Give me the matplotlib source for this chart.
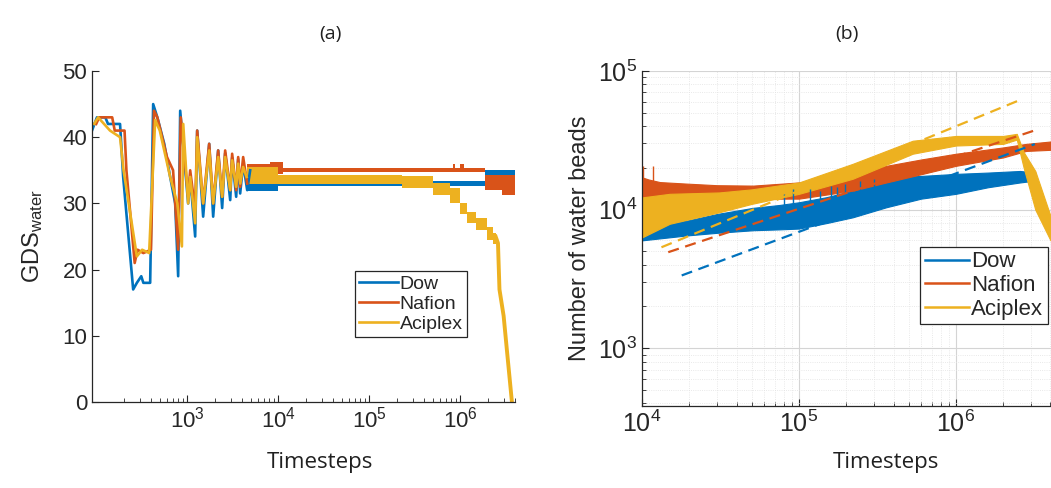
import numpy as np
import matplotlib
matplotlib.use("Agg")
import matplotlib.pyplot as plt
from matplotlib.ticker import LogLocator, NullFormatter, FixedLocator

plt.rcParams['font.family'] = ['Liberation Sans', 'DejaVu Sans']
plt.rcParams['mathtext.fontset'] = 'custom'
plt.rcParams['mathtext.rm'] = 'Liberation Sans'
plt.rcParams['mathtext.it'] = 'Liberation Sans:italic'

# MATLAB default line colours
c_dow = '#0072BD'
c_naf = '#D95319'
c_aci = '#EDB120'
dark = '#262626'

labels = ['Dow', 'Nafion', 'Aciplex']

# ---- (a) GDS of water vs timesteps ----
dow_t = [90, 102, 126, 135, 183, 198, 255, 280, 313, 330, 392, 423, 470, 560, 650, 738, 796, 838,
         1025, 1079, 1224, 1288, 1498, 1745, 1930, 2190, 2423, 2615, 2970, 3119, 3455, 3634, 3822,
         4122, 4565, 4922]
dow_v = [41, 43, 43, 42, 42, 34, 17, 18, 19, 18, 18, 45, 43, 39, 34, 30, 19, 44,
         30, 34, 25, 41, 28, 39, 28, 38, 29.3, 37.6, 30.5, 36.9, 31, 36.7, 31.5,
         36, 32, 35]

naf_t = [100, 108, 150, 160, 205, 215, 265, 285, 330, 400, 432, 470, 600, 700, 796, 850,
         1025, 1079, 1224, 1288, 1498, 1745, 1930, 2190, 2423, 2615, 2970, 3119, 3455, 3634,
         3822, 4122, 4565]
naf_v = [42, 43, 43, 41, 41, 35, 21, 23, 22.5, 23, 44, 43, 37, 35, 23, 43,
         31, 35, 29, 41, 30, 39, 30, 38, 31, 38, 32, 37.5, 32, 37,
         32.5, 37, 33]

aci_t = [95, 105, 142, 183, 200, 280, 320, 382, 445, 500, 650, 780, 875, 905,
         1025, 1079, 1224, 1288, 1498, 1745, 1930, 2190, 2423, 2615, 2970, 3119, 3455, 3634,
         3822, 4122, 4500]
aci_v = [42, 43, 41, 40, 35, 22, 23, 22.5, 42.6, 41, 34, 30, 23.5, 42,
         30, 34, 27, 40, 30, 38, 30, 37, 31, 37, 32, 36.5, 32.5, 36,
         33, 35.5, 34]

# fluctuating plateaus (min / max envelope)
dow_band_t = [4565, 1.0e4, 1.85e6, 2.8e6, 4.0e6]
dow_band_lo = [31.8, 32.7, 33.0, 32.2, 32.2]
dow_band_hi = [33.5, 33.4, 35.0, 35.0, 35.0]

naf_band_t = [4565, 8.2e3, 1.13e4, 8.3e5, 8.8e5, 1.0e6, 1.1e6, 1.85e6, 2.9e6, 4.0e6]
naf_band_lo = [34.5, 34.5, 34.7, 34.7, 34.7, 34.7, 34.7, 32.0, 31.2, 31.2]
naf_band_hi = [36.0, 36.3, 35.3, 36.0, 35.3, 36.0, 35.3, 34.3, 34.3, 34.3]

aci_band_t = [4500, 1.0e4, 2.3e5, 5.0e5, 7.8e5, 1.0e6, 1.2e6, 1.5e6, 1.95e6, 2.3e6, 2.45e6]
aci_band_lo = [33.0, 33.0, 32.3, 31.3, 30.0, 28.4, 27.0, 26.0, 24.5, 23.8, 23.8]
aci_band_hi = [35.5, 34.3, 34.2, 33.1, 32.3, 30.0, 28.7, 27.8, 26.5, 25.6, 25.6]

aci_tail_t = [2.45e6, 2.6e6, 2.7e6, 3.0e6, 3.25e6, 3.7e6]
aci_tail_v = [25, 24, 17, 13, 8, 0]

# ---- (b) number of water beads vs timesteps ----
dow_b_t = [1.0e4, 1.3e4, 1.9e4, 3.0e4, 5.1e4, 7.5e4, 1.0e5, 1.5e5, 2.2e5, 3.6e5, 6.0e5, 1.0e6,
           1.6e6, 2.56e6, 3.2e6]
dow_b_lo = [6000, 6200, 6500, 6800, 7100, 7200, 7300, 8000, 8800, 10400, 12000, 13000,
            14500, 15700, 16200]
dow_b_hi = [7500, 7800, 8300, 9300, 10300, 10800, 11300, 12300, 13700, 17100, 17500, 18100,
            18500, 19000, 18500]
dow_spike_t = [8.0e4, 9.2e4, 1.17e5, 1.36e5, 1.6e5, 1.74e5, 1.96e5, 2.45e5, 3.0e5]
dow_spike_top = [13000, 14100, 14000, 13600, 14800, 14500, 15400, 16200, 16500]

naf_b_t = [1.0e4, 1.1e4, 1.3e4, 1.93e4, 3.0e4, 5.1e4, 1.0e5, 2.2e5, 3.6e5, 6.0e5, 1.0e6,
           2.0e6, 2.8e6, 4.0e6]
naf_b_lo = [10400, 10800, 11000, 11600, 11900, 12000, 12000, 13700, 15700, 18000, 20700,
            23800, 26500, 27000]
naf_b_hi = [17100, 16500, 15800, 15400, 15000, 14900, 15700, 18100, 20700, 23000, 25300,
            28100, 29800, 31000]
naf_spike_t = [1.02e4, 1.17e4]
naf_spike_top = [20700, 20700]

aci_b_t = [1.0e4, 1.5e4, 3.1e4, 5.0e4, 1.0e5, 2.2e5, 5.3e5, 1.0e6, 2.0e6, 2.44e6, 2.7e6,
           3.2e6, 4.0e6]
aci_b_lo = [6300, 7900, 9560, 11000, 13000, 16700, 25300, 29000, 29800, 32000, 20000,
            10000, 6000]
aci_b_hi = [12250, 13000, 13300, 14000, 15700, 21400, 31400, 34000, 34000, 35200, 26000,
            19000, 9000]

# power-law fits (end points)
dow_fit_t = [1.79e4, 3.18e6]
dow_fit_v = [3350, 29700]
naf_fit_t = [1.47e4, 3.34e6]
naf_fit_v = [4930, 38000]
aci_fit_t = [1.33e4, 2.62e6]
aci_fit_v = [5350, 62500]

W, H = 1051, 488
fig = plt.figure(figsize=(W / 100, H / 100), dpi=100)


def px_axes(left, top, right, bottom):
    return fig.add_axes([left / W, 1 - bottom / H, (right - left) / W, (bottom - top) / H])


def style_axes(ax, size):
    for s in ['top', 'right']:
        ax.spines[s].set_visible(False)
    for s in ['left', 'bottom']:
        ax.spines[s].set_color(dark)
        ax.spines[s].set_linewidth(0.9)
    ax.tick_params(which='both', direction='in', colors=dark, labelsize=size)
    ax.tick_params(which='major', length=5)
    ax.tick_params(which='minor', length=3)


# left panel
ax1 = px_axes(92, 71, 515, 402)
lw = 1.9
for t, v, bt, blo, bhi, c, lab in [
        (dow_t, dow_v, dow_band_t, dow_band_lo, dow_band_hi, c_dow, 'Dow'),
        (naf_t, naf_v, naf_band_t, naf_band_lo, naf_band_hi, c_naf, 'Nafion'),
        (aci_t, aci_v, aci_band_t, aci_band_lo, aci_band_hi, c_aci, 'Aciplex')]:
    ax1.plot(t, v, color=c, lw=lw, label=lab)
    ax1.fill_between(bt, blo, bhi, step='post', color=c, lw=0)
ax1.plot(aci_tail_t, aci_tail_v, color=c_aci, lw=2.8)

ax1.set_xscale('log')
ax1.set_xlim(90, 4.0e6)
ax1.set_ylim(0, 50)
ax1.xaxis.set_major_locator(FixedLocator([1e3, 1e4, 1e5, 1e6]))
ax1.xaxis.set_minor_locator(LogLocator(base=10, subs=np.arange(2, 10), numticks=20))
ax1.xaxis.set_minor_formatter(NullFormatter())
ax1.set_yticks([0, 10, 20, 30, 40, 50])
style_axes(ax1, 16)
ax1.set_ylabel(r'GDS$_{\mathrm{water}}$', fontsize=17, color=dark)
ax1.yaxis.set_label_coords(-0.112, 0.5)
ax1.set_xlabel('Timesteps', fontsize=16, family='Open Sans', color='#202020')
ax1.xaxis.set_label_coords(0.539, -0.150)
leg1 = ax1.legend(loc='upper left', bbox_to_anchor=(0.622, 0.395), fontsize=14,
                  fancybox=False, edgecolor=dark, framealpha=1, handlelength=2.0,
                  handletextpad=0.1, borderpad=0.2, labelspacing=0.12, borderaxespad=0)
leg1.get_frame().set_linewidth(0.9)
for txt in leg1.get_texts():
    txt.set_color(dark)

# right panel
ax2 = px_axes(642, 71, 1051, 406)
ax2.set_xscale('log')
ax2.set_yscale('log')
ax2.set_xlim(1e4, 4.03e6)
ax2.set_ylim(383, 1e5)
ax2.grid(which='major', color='#d4d4d4', lw=0.8)
ax2.grid(which='minor', color='#e2e2e2', lw=0.6, linestyle=':')
ax2.set_axisbelow(True)

for bt, blo, bhi, st, stop, c, lab in [
        (dow_b_t, dow_b_lo, dow_b_hi, dow_spike_t, dow_spike_top, c_dow, 'Dow'),
        (naf_b_t, naf_b_lo, naf_b_hi, naf_spike_t, naf_spike_top, c_naf, 'Nafion'),
        (aci_b_t, aci_b_lo, aci_b_hi, [], [], c_aci, 'Aciplex')]:
    ax2.fill_between(bt, blo, bhi, color=c, lw=0.8, edgecolor=c)
    if st:
        ax2.vlines(st, 10000 if c == c_dow else 15000, stop, color=c, lw=1.0)
    ax2.plot([], [], color=c, lw=1.8, label=lab)

for ft, fv, c in [(dow_fit_t, dow_fit_v, c_dow), (naf_fit_t, naf_fit_v, c_naf),
                  (aci_fit_t, aci_fit_v, c_aci)]:
    ax2.plot(ft, fv, color=c, lw=1.6, linestyle=(0, (5, 3)))

ax2.xaxis.set_major_locator(FixedLocator([1e4, 1e5, 1e6]))
ax2.yaxis.set_major_locator(FixedLocator([1e3, 1e4, 1e5]))
for axis in (ax2.xaxis, ax2.yaxis):
    axis.set_minor_locator(LogLocator(base=10, subs=np.arange(2, 10), numticks=20))
    axis.set_minor_formatter(NullFormatter())
style_axes(ax2, 18)
ax2.set_ylabel('Number of water beads', fontsize=17, color=dark)
ax2.yaxis.set_label_coords(-0.125, 0.5)
ax2.set_xlabel('Timesteps', fontsize=16, family='Open Sans', color='#202020')
ax2.xaxis.set_label_coords(0.597, -0.138)
leg2 = ax2.legend(loc='upper left', bbox_to_anchor=(0.68, 0.475), fontsize=16,
                  fancybox=False, edgecolor=dark, framealpha=1, handlelength=2.0,
                  handletextpad=0.1, borderpad=0.2, labelspacing=0.12, borderaxespad=0)
leg2.get_frame().set_linewidth(0.9)
for txt in leg2.get_texts():
    txt.set_color(dark)

fig.text(330 / W, 1 - 34 / H, '(a)', fontsize=14, family='Open Sans', ha='center',
         va='center', color='#202020')
fig.text(847 / W, 1 - 34 / H, '(b)', fontsize=14, family='Open Sans', ha='center',
         va='center', color='#202020')

fig.savefig('out.png', dpi=100)
